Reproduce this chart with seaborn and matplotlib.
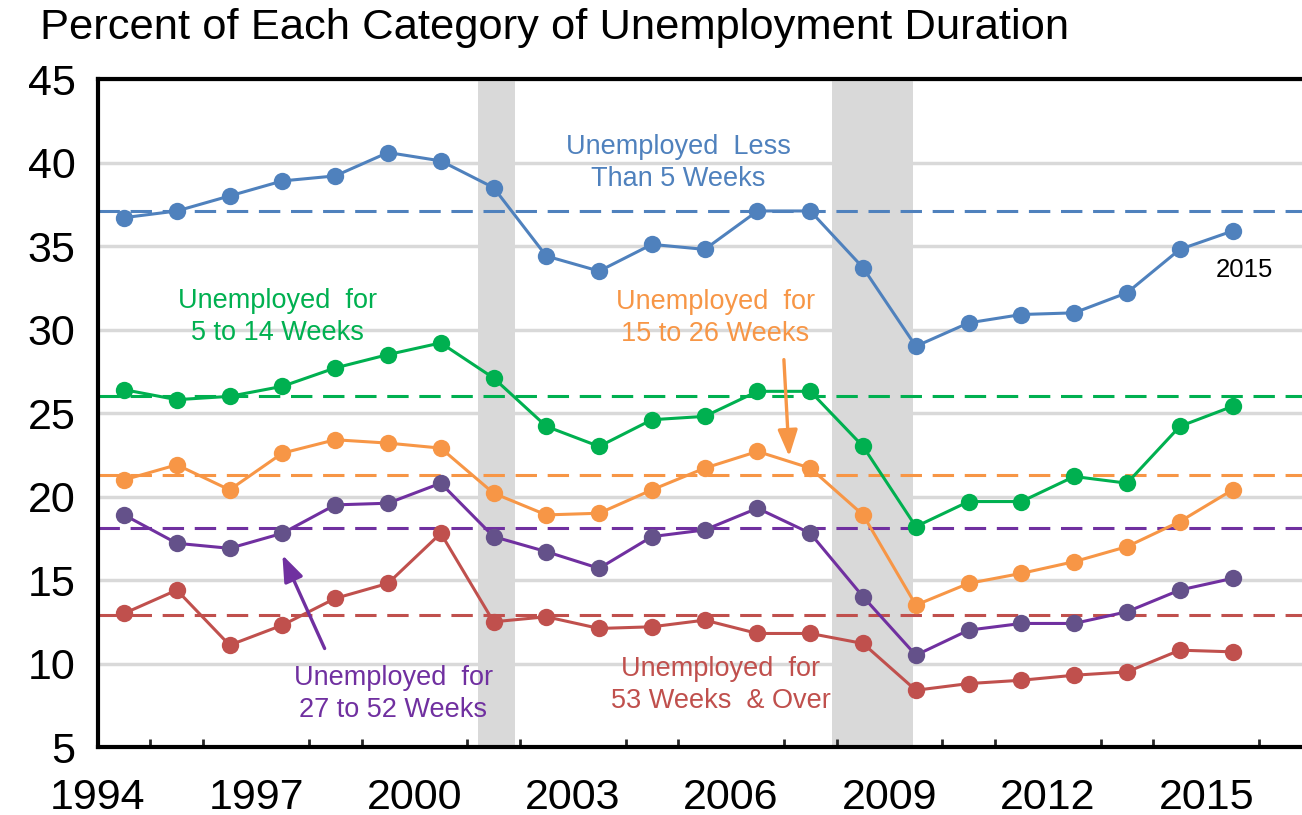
import matplotlib
matplotlib.use("Agg")
import matplotlib.pyplot as plt
import numpy as np
import pandas as pd
import seaborn as sns

# annual values, plotted at mid-year
years = list(range(1994, 2016))
less_5 = [36.7, 37.1, 38.0, 38.9, 39.2, 40.6, 40.1, 38.5, 34.4, 33.5, 35.1, 34.8,
          37.1, 37.1, 33.7, 29.0, 30.4, 30.9, 31.0, 32.2, 34.8, 35.9]
wk_5_14 = [26.4, 25.8, 26.0, 26.6, 27.7, 28.5, 29.2, 27.1, 24.2, 23.0, 24.6, 24.8,
           26.3, 26.3, 23.0, 18.2, 19.7, 19.7, 21.2, 20.8, 24.2, 25.4]
wk_15_26 = [21.0, 21.9, 20.4, 22.6, 23.4, 23.2, 22.9, 20.2, 18.9, 19.0, 20.4, 21.7,
            22.7, 21.7, 18.9, 13.5, 14.8, 15.4, 16.1, 17.0, 18.5, 20.4]
wk_27_52 = [18.9, 17.2, 16.9, 17.8, 19.5, 19.6, 20.8, 17.6, 16.7, 15.7, 17.6, 18.0,
            19.3, 17.8, 14.0, 10.5, 12.0, 12.4, 12.4, 13.1, 14.4, 15.1]
wk_53_over = [13.0, 14.4, 11.1, 12.3, 13.9, 14.8, 17.8, 12.5, 12.8, 12.1, 12.2, 12.6,
              11.8, 11.8, 11.2, 8.4, 8.8, 9.0, 9.3, 9.5, 10.8, 10.7]

# long-run averages (dashed lines)
averages = [37.1, 26.05, 21.3, 18.1, 12.9]

recessions = [(2001.2, 2001.9), (2007.92, 2009.45)]

names = ["Less than 5", "5 to 14", "15 to 26", "27 to 52", "53 and over"]
line_colors = ["#4f81bd", "#00b050", "#f79646", "#7030a0", "#c0504d"]
dot_colors = ["#4f81bd", "#00b050", "#f79646", "#64518a", "#c0504d"]

sns.set_style("white")
plt.rcParams["font.family"] = ["Liberation Sans", "DejaVu Sans"]
plt.rcParams["text.color"] = "black"

fig = plt.figure(figsize=(13.02, 8.15), dpi=100)
ax = fig.add_axes([0.075, 0.0834, 0.9325, 0.8196])

for a, b in recessions:
    ax.axvspan(a, b, color="#d9d9d9", lw=0, zorder=0)

series = [less_5, wk_5_14, wk_15_26, wk_27_52, wk_53_over]
x_mid = np.array(years) + 0.5
for vals, avg, lc, dc in zip(series, averages, line_colors, dot_colors):
    ax.axhline(avg, color=lc, lw=2.2, dashes=(7, 3.5), zorder=2)
    sns.lineplot(x=x_mid, y=vals, ax=ax, color=lc, lw=2.2, marker="o",
                 markersize=12.5, markerfacecolor=dc, markeredgewidth=0, zorder=3)

ax.set_xlim(1994, 2017)
ax.set_ylim(5, 45)
ax.set_yticks(range(5, 50, 5))
ax.set_xticks(range(1994, 2017, 3))
ax.set_xticks(range(1994, 2018), minor=True)
ax.grid(axis="y", color="#d9d9d9", lw=2.5, zorder=1)
ax.grid(axis="x", visible=False)
ax.set_axisbelow(True)

for s in ["left", "bottom", "top"]:
    ax.spines[s].set_color("black")
    ax.spines[s].set_linewidth(3)
ax.spines["right"].set_visible(False)

ax.tick_params(axis="y", which="major", direction="in", length=9, width=2,
               labelsize=31, pad=16, colors="black")
ax.tick_params(axis="x", which="major", direction="in", length=9, width=2,
               labelsize=31, pad=22, colors="black")
ax.tick_params(axis="x", which="minor", direction="in", length=6, width=2, bottom=True)
ax.set_xlabel("")
ax.set_ylabel("")

fig.text(40 / 1302, 1 - 28 / 815, "Percent of Each Category of Unemployment Duration",
         fontsize=31.3, ha="left", va="center", color="black")

tk = dict(fontsize=19.5, ha="center", va="center", linespacing=1.3)
ax.text(2005.0, 40.0, "Unemployed  Less\nThan 5 Weeks", color=line_colors[0], **tk)
ax.text(1997.4, 30.75, "Unemployed  for\n5 to 14 Weeks", color=line_colors[1], **tk)
ax.text(2005.7, 30.7, "Unemployed  for\n15 to 26 Weeks", color=line_colors[2], **tk)
ax.text(1999.6, 8.2, "Unemployed  for\n27 to 52 Weeks", color=line_colors[3], **tk)
ax.text(2005.8, 8.7, "Unemployed  for\n53 Weeks  & Over", color=line_colors[4], **tk)
ax.text(2015.73, 33.56, "2015", fontsize=18.5, ha="center", va="center", color="black")

arrow = dict(arrowstyle="-|>,head_length=1.6,head_width=0.6", lw=2.4)
ax.annotate("", xy=(2007.1, 22.4), xytext=(2007.0, 28.2),
            arrowprops=dict(color=line_colors[2], shrinkA=0, shrinkB=0, **arrow))
ax.annotate("", xy=(1997.5, 16.5), xytext=(1998.3, 10.9),
            arrowprops=dict(color=line_colors[3], shrinkA=0, shrinkB=0, **arrow))

fig.savefig("out.png", dpi=100)
